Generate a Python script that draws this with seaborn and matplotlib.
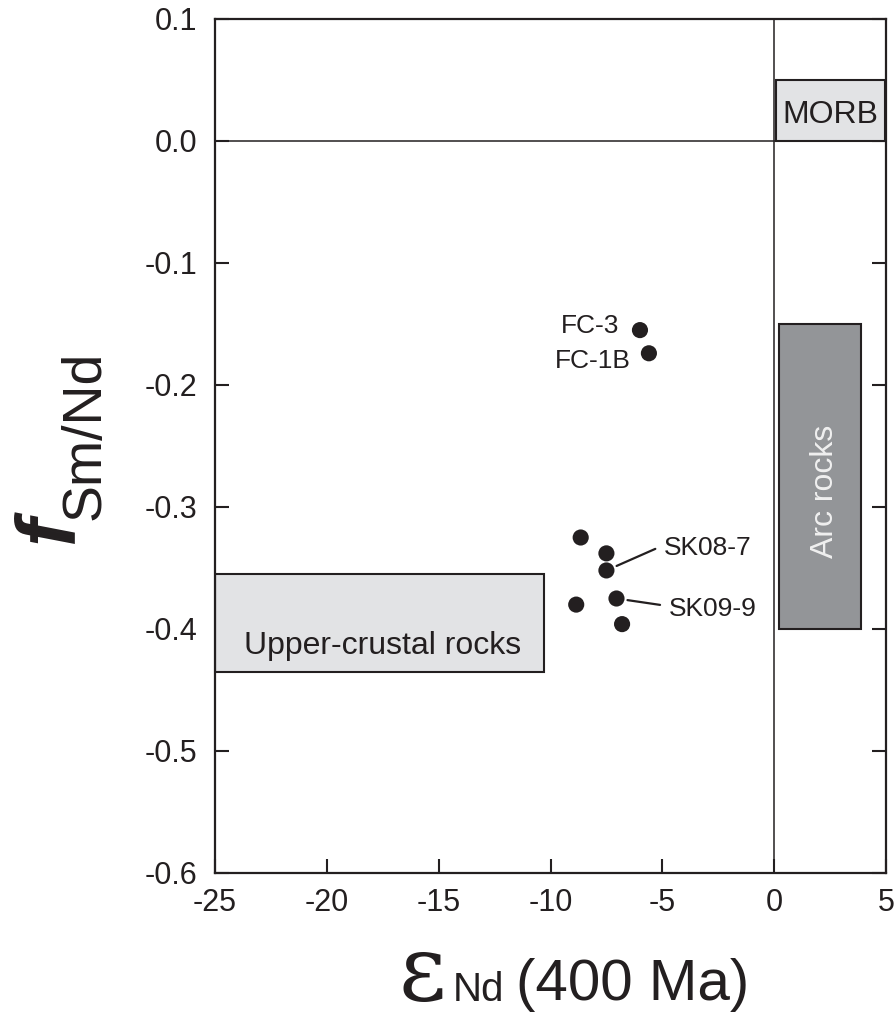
import numpy as np
import pandas as pd
import matplotlib
matplotlib.use("Agg")
import matplotlib.pyplot as plt
import seaborn as sns
from matplotlib.patches import Rectangle

# ---------------- data ----------------
eps_nd = [-6.0, -5.6, -8.65, -7.5, -7.5, -8.85, -7.05, -6.8]
f_smnd = [-0.155, -0.174, -0.325, -0.338, -0.352, -0.380, -0.375, -0.396]

label_names = ["FC-3", "FC-1B", "SK08-7", "SK09-9"]
label_index = [0, 1, 4, 6]
label_x = [-6.91, -6.42, -4.94, -4.71]
label_y = [-0.157, -0.186, -0.339, -0.389]
label_ha = ["right", "right", "left", "left"]
label_leader = [False, False, True, True]

field_names = ["MORB", "Arc rocks", "Upper-crustal rocks"]
field_x0 = [0.1, 0.2, -25.0]
field_x1 = [4.95, 3.9, -10.3]
field_y0 = [0.0, -0.40, -0.435]
field_y1 = [0.05, -0.15, -0.355]
field_fill = ["#e2e3e5", "#939598", "#e2e3e5"]
field_text_x = [2.52, 2.63, -17.5]
field_text_y = [0.0148, -0.287, -0.4205]
field_text_rot = [0, 90, 0]
field_text_color = ["#231f20", "#f0f0f0", "#231f20"]

x_ticks = [-25, -20, -15, -10, -5, 0, 5]
y_ticks = [0.1, 0.0, -0.1, -0.2, -0.3, -0.4, -0.5, -0.6]
y_tick_labels = ["0.1", "0.0", "-0.1", "-0.2", "-0.3", "-0.4", "-0.5", "-0.6"]

INK = "#231f20"

# ---------------- style ----------------
sns.set_theme(style="white")
plt.rcParams["font.family"] = ["Liberation Sans", "DejaVu Sans"]
plt.rcParams["axes.unicode_minus"] = False

W, H = 896, 1019
fig = plt.figure(figsize=(W / 100, H / 100), dpi=100)
ax = fig.add_axes([215 / W, 1 - 873 / H, (886 - 215) / W, (873 - 19) / H])

ax.axhline(0, color=INK, lw=1.1, zorder=1)
ax.axvline(0, color=INK, lw=1.1, zorder=1)

for i, name in enumerate(field_names):
    ax.add_patch(Rectangle((field_x0[i], field_y0[i]),
                           field_x1[i] - field_x0[i], field_y1[i] - field_y0[i],
                           facecolor=field_fill[i], edgecolor=INK, lw=1.5, zorder=2))
    ax.text(field_text_x[i], field_text_y[i], name, rotation=field_text_rot[i],
            rotation_mode="anchor", ha="center", va="baseline",
            fontsize=23, color=field_text_color[i], zorder=3)

df = pd.DataFrame({"eps": eps_nd, "f": f_smnd})
sns.scatterplot(data=df, x="eps", y="f", s=135, color=INK, edgecolor="none",
                ax=ax, zorder=4, legend=False)

for name, idx, tx, ty, ha, lead in zip(label_names, label_index, label_x, label_y,
                                         label_ha, label_leader):
    if lead:
        ax.annotate(name, xy=(eps_nd[idx], f_smnd[idx]), xytext=(tx, ty),
                    ha=ha, va="baseline", fontsize=19, color=INK, zorder=5,
                    arrowprops=dict(arrowstyle="-", color=INK, lw=1.6,
                                    shrinkA=4, shrinkB=8, relpos=(0, 0.6)))
    else:
        ax.text(tx, ty, name, ha=ha, va="baseline", fontsize=19, color=INK, zorder=5)

ax.set_xlim(-25, 5)
ax.set_ylim(-0.6, 0.1)
ax.set_xticks(x_ticks)
ax.set_xticklabels([str(t) for t in x_ticks])
ax.set_yticks(y_ticks)
ax.set_yticklabels(y_tick_labels)
ax.set_xlabel("")
ax.set_ylabel("")

ax.tick_params(axis="both", direction="in", length=10, width=1.5, colors=INK,
               labelsize=22, labelcolor=INK)
ax.tick_params(axis="x", pad=11, top=False, bottom=True)
ax.tick_params(axis="y", pad=13, left=True, right=True, labelright=False)
for sp in ax.spines.values():
    sp.set_color(INK)
    sp.set_linewidth(1.6)

# ---------------- axis titles ----------------
def fx(px):
    return px / W

def fy(py):
    return 1 - py / H

fig.text(fx(398), fy(1000), "\u03b5", fontsize=66, family=["DejaVu Serif", "Liberation Serif"],
         color=INK, ha="left", va="baseline")
fig.text(fx(453), fy(1001), "Nd", fontsize=29, color=INK, ha="left", va="baseline")
fig.text(fx(516), fy(1000), "(400 Ma)", fontsize=42, color=INK, ha="left", va="baseline")

fig.text(fx(72), fy(543), "f", fontsize=60, fontweight="bold", fontstyle="italic",
         color=INK, rotation=90, rotation_mode="anchor", ha="left", va="baseline")
fig.text(fx(100), fy(520), "Sm/Nd", fontsize=40, color=INK, rotation=90,
         rotation_mode="anchor", ha="left", va="baseline")

fig.savefig("out.png", dpi=100)
